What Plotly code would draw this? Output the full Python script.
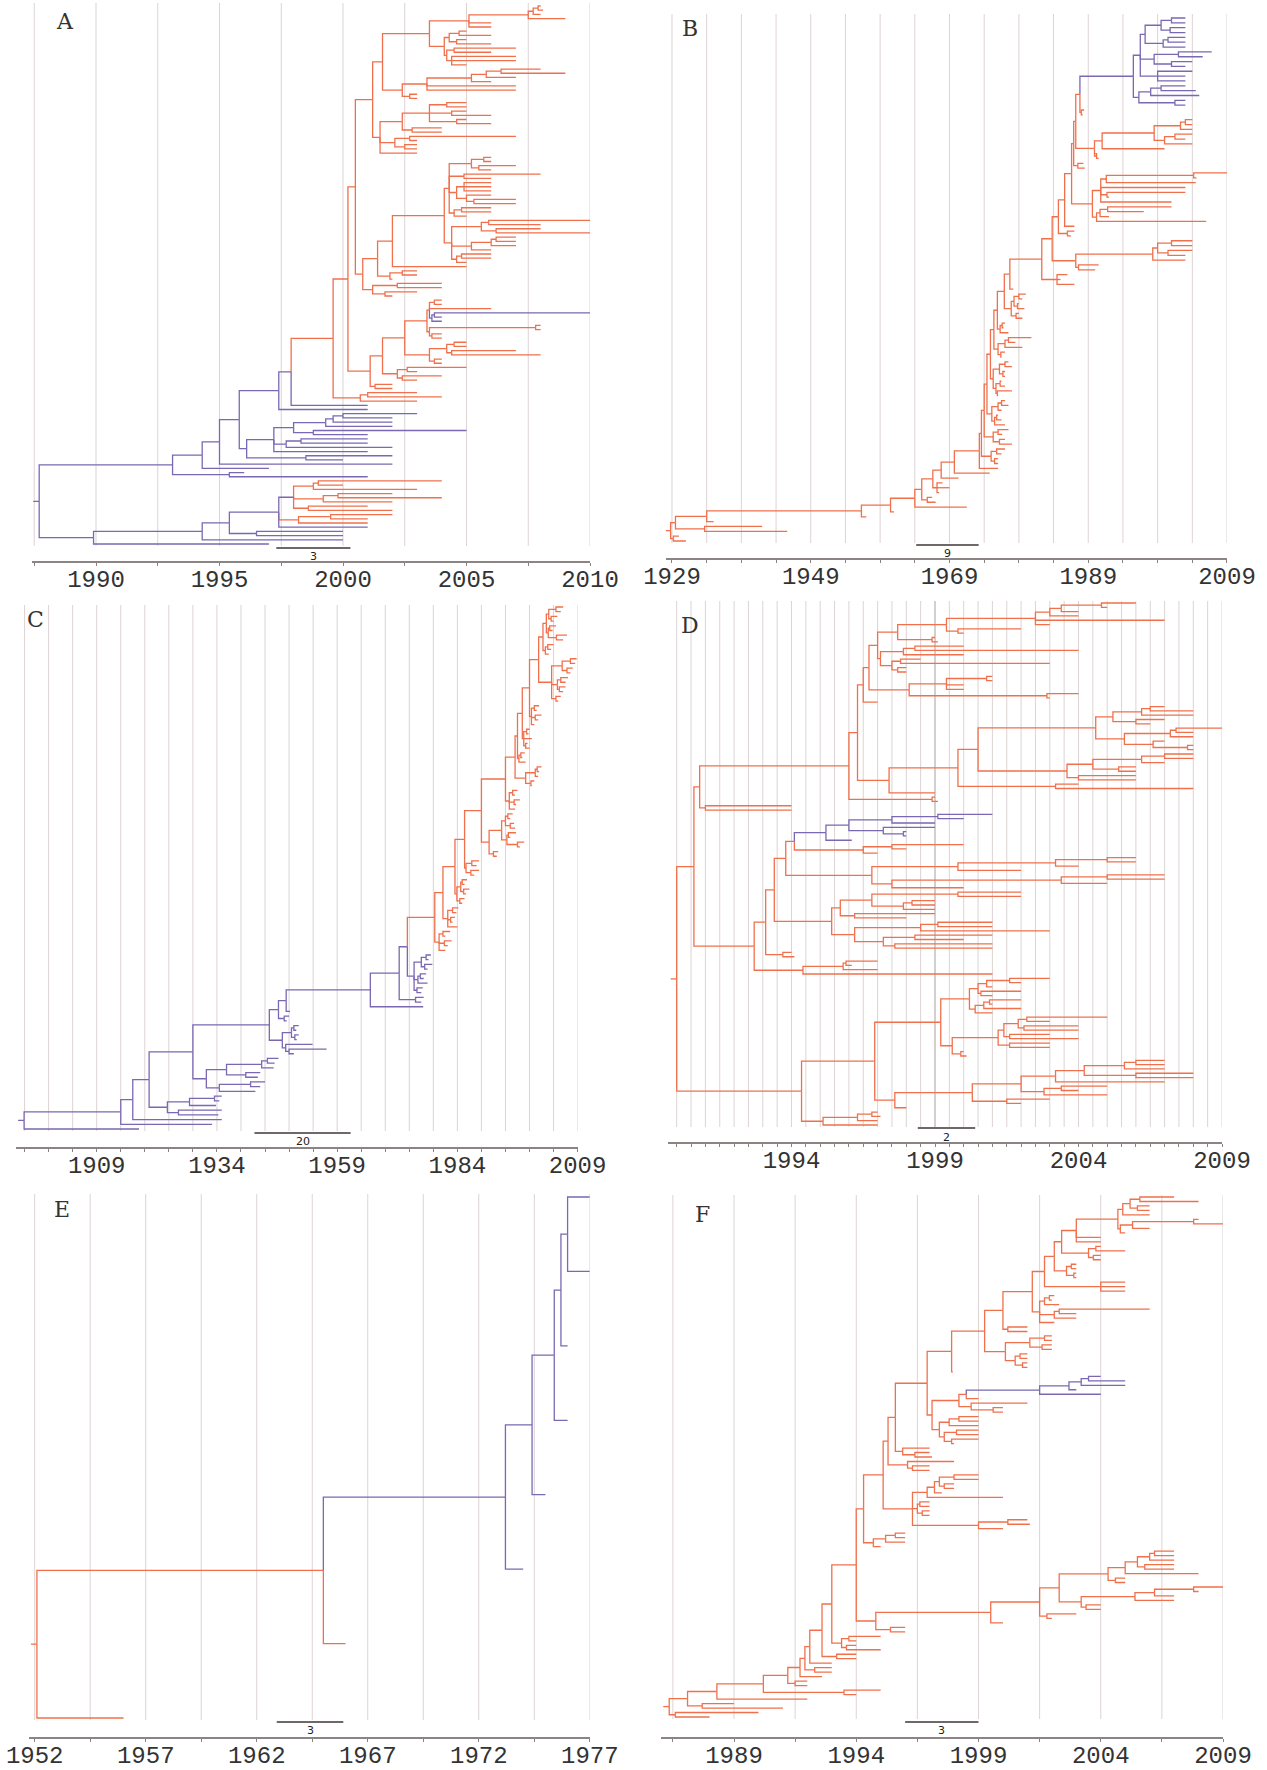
import re
import numpy as np
import plotly.graph_objects as go

W, H = 1267, 1770
ORANGE = "#F0704C"
PURPLE = "#7A68B3"
GRID = "#DDD3D3"
GRID_DARK = "#A99F9F"
AXIS = "#8C8383"
TEXT = "#333333"

# ---------------------------------------------------------------------------
# Dated trees, Newick style: every node is followed by its date (year);
# a trailing "o" / "p" switches the colour of that node's subtree
# (o = orange, p = purple).  Children are listed top to bottom.
# ---------------------------------------------------------------------------

# ---- A ----
A_TOP1 = ("(((((2008,2008.1)2007.9,2008)2007.7,2009)2007.5,2006,2006)2005.1,"
          "(((2005,2006)2004.7,(2005,2006)2004.6)2004.3,((2007,2006)2004.5,(2007,2007,2005)2004.4)2004.2)2004.1)2003.5")
A_TOP2 = "(((((2008,2009)2006.4,2007)2005.8,2006)2005.2,2007,2007)2003.4,(2003,2003)2002.7)2002.4"
A_TOP3 = ("((((2005,2005)2004.2,(2005,2006)2004.4,(2005,2006)2004.6)2003.5,(2004,2004)2002.8)2002.4,"
          "((2007,2003)2002.7,(2003,2003)2002.5)2002.1,2003)2001.5")
A_UP = ("(((2006,2006)2005.7,(2007,2006)2005.5)2005.2,(2008,2006)2004.9,"
        "((2006,2006,2006)2004.9,(2006,(2007,2007)2005.3)2005)2004.6,((2006,2006)2004.8,2005)2004.5)2004.3")
A_LOW = ("(((2010,2008)2005.9,(2008,2010)2006.2)2005.6,(((2007,2007)2006.2,2007)2006,2006)2005.2,"
         "((2006,2006)2004.8,2005)2004.6)2004.4")
A_MID = (f"(((({A_UP},{A_LOW})2004.1,2005)2002,((2003,2003)2002.4,2002)2001.9)2001.4,"
         "((2004,2004)2002.2,(2003,2002)2001.7)2001.2)2000.8")
A_TIPS = ("((((((2004,2004)2003.7,2006,((2010,2004)2003.7,2004)2003.6p)2003.5,"
          "((2008,2008)2007.8,(2004,2004)2003.6)2003.5)2003.4,"
          "(((2005,2005)2004.5,(2007,2008)2004.4)2004.2,(2004,2004)2003.7)2003.5)2002.5,"
          "((2005,2003)2002.6,(2004,2003)2002.4)2002.2)2001.6,(2002,2002)2001.3)2001.1")
A_SMALL = "((2003,2004)2001,2003)2000.7"
A_UPPER = (f"(((((({A_TOP1},{A_TOP2})2001.6,{A_TOP3})2001.2,{A_MID})2000.5,{A_TIPS})2000.2,"
           f"{A_SMALL})1999.6o,2001)1997.9")
A_PURPLE = ("((((((2003,2002)2000,2002)1999.6,2002)1999.3,(2005,2001)1998.8)1998,"
            "((2001,2001)1998.3,2002)1997.7,2001)1997.2,(2002,2000)1998.5)1996.1")
A_BRANCH1 = f"((((({A_UPPER},2001)1997.4,{A_PURPLE})1995.8,2002)1995,1997)1994.3,(1996,2001)1995.4)1993.1"
A_ORANGE_LOW = ("((((2004,2000)1999,2003)1998.8o,((2002,2004)1999.8,2002)1999.2o,(2001,2002)1998.6o)1998,"
                "((2002,2001)1999.5,2001)1998.2o,2001)1997.4")
A_BRANCH2 = f"((({A_ORANGE_LOW},(2000,2000)1996.5)1995.4,2000)1994.3,1997)1989.9"
TREE_A = f"({A_BRANCH1},{A_BRANCH2})1987.7p"

# ---- B ----
B_P = ("(((((2003,2003)2001,(2003,2003)2000.8)1999.5,((2003,2003)2000.5,2003)1999.8)1997.2,"
       "((2006.8,2005.5)2002,(2004,2003)2001)1998.5,(2004,2003,2003)1999)1996.5,"
       "(((2003,2004.5)1999.5,2005)1998,(2003,2003)2001.5)1996.3)1995.5p")
B_Q = "(((((2004,2004)2003,2004)2002.3,((2004,2003)2001.5,2004)2000)1998.5,2000)1991,(1990,1990.5)1990.2)1989.9"
B_R = ("((((2009,2004.6)2004.2,2004.5)1991.6,2003,(2003,1992)1991.7,2001)1990.8,"
       "(((2001,1997)1991.8,1992)1990.7,2006)1990.2)1989.6")
B_S = "((((2004,2004)2001,(2004,2003)2000.5)1999,2003)1998.3,(1990.5,1990)1987.6)1987.2"
B_L7 = "(((1980,1979.5)1979,(1979,1979.8)1978.8)1978.3,(1979,1979.5)1978.6)1977.9"
B_L6 = "((1977,1976.8)1976.6,1977.5)1976.3"
B_L5 = "(((1980.8,1978.5)1977.5,1979.5)1977,(1977,1976.5)1976.4)1976"
B_L4 = "(((1977.5,1978)1977,(1977,1977)1976.7)1976.2,((1976.5,1977)1976.3,(1978,1976)1975.9)1975.7)1975.3"
B_L3 = "(((1977,1977.5)1976.5,1976.5)1976,((1976,1976.5)1975.8,1977)1975.5)1975.1"
B_L2 = "((1977.5,1976.6)1976,(1977,1978)1976.2)1975.3"
B_L1 = "((1977,1976.5)1975.8,(1976,1976)1975.5)1975"
B_N1 = f"({B_P},(1988.4,1988.2)1988)1987.8"
B_N2 = f"({B_N1},{B_Q})1987.2"
B_N3 = f"({B_N2},(1988.3,1988.5)1987.5)1986.9"
B_N4 = f"({B_N3},{B_R})1986.6"
B_N5 = f"({B_N4},1987)1985.6"
B_N6 = f"({B_N5},(1987,1986.5)1986)1984.7"
B_N7 = f"({B_N6},{B_S})1983.8"
B_N8 = f"({B_N7},(1986,1985,1987)1984.5)1982.3"
B_N9 = f"({B_N8},1978.2)1977.7"
B_N10 = f"({B_N9},{B_L7})1976.9"
B_N11 = f"({B_N10},{B_L6})1975.9"
B_N12 = f"({B_N11},{B_L5})1975.4"
B_N13 = f"({B_N12},{B_L4})1974.9"
B_N14 = f"({B_N13},{B_L3})1974.4"
B_N15 = f"({B_N14},{B_L2})1974"
B_N16 = f"({B_N15},{B_L1})1973.6"
B_N17 = f"({B_N16},1976)1973.3"
B_N18 = f"({B_N17},1974.8)1969.7"
B_N19 = f"({B_N18},1970.3)1967.8"
B_N20 = f"({B_N19},(1968,1969,1967.5)1967.2)1966.6"
B_N21 = f"({B_N20},(1966.5,1967)1965.8)1965"
B_N22 = f"({B_N21},1971.5)1964"
B_N23 = f"({B_N22},1961)1960.5"
B_N24 = f"({B_N23},1957)1956.3"
B_N25 = f"({B_N24},1935)1934"
B_N26 = f"({B_N25},(1942,1945.6)1933.7)1929.5"
TREE_B = f"({B_N26},(1930,1931)1929.2)1928.8o"

# ---- C ----
C1 = ("((((2006,2005.5)2004.5,(2004.8,2004)2003.5)2003,((2004.5,2003.8)2003.2,(2006.8,2006)2004.6)2002.9)2002.5,"
      "((2004,2003.5)2002.8,2003)2002.3)2001.8")
C2 = ("(((2008.8,2008.5)2007.5,(2008,2007.5)2006.8)2005.8,((2007,2006.5)2005.5,(2006.5,2006)2005.2)2004.8,"
      "(2005.5,2005)2004.5)2003.6")
C3 = "((2001,2000.5)2000,(2001.5,2000.8)2000.2,2000)1999.4"
C4 = "((1999,1998.8)1998.4,1999.5,(1998.6,1999)1998.2)1997.8"
C5 = "((1998,1997.5)1997.2,1998.2)1996.8"
C6 = "(((2001.5,2001)2000.6,2000.8)2000.2,(2000,1999.5)1999.3)1998.2"
C7 = "((1996.5,1996)1995.5,(1997,1996.2)1995.8,1996)1994.8"
C8 = ("((((1995.5,1995)1994.5,(1995.8,1996)1995)1994,((1996.2,1995)1994.6,(1997.9,1997)1996.5)1994.3)1993.2,"
      "(1992.5,1992.2)1991.5)1990.6")
C9 = "((1988.5,1988)1987,(1988.5,1987.5)1986.8)1985.8"
C10 = "(((1986,1985.5)1985,(1986.5,1985.8)1985.3)1984.7,(1985.5,1985)1984.5)1983.9"
C11 = "((1984.2,1983.8)1983,(1983.5,1983)1982.6,1984)1982"
C12 = "((1982.5,1981.5)1981,(1982.8,1982)1981.3,1981.5)1980.2"
C_O1 = f"({C1},{C2})2000.9"
C_O2 = f"({C_O1},{C3})1999"
C_O3 = f"({C_O2},{C4})1997.5"
C_O4 = f"({C_O3},{C5})1996.5"
C_O5 = f"({C_O4},{C6})1996"
C_O6 = f"({C_O5},{C7})1994"
C_O7 = f"({C_O6},{C8})1989"
C_O8 = f"({C_O7},{C9})1985.5"
C_O9 = f"({C_O8},{C10})1983.5"
C_O10 = f"({C_O9},{C11})1981"
C_O11 = f"({C_O10},{C12})1979.3o"
C_P1 = ("(((1978.5,1978)1977.5,(1978.8,1977.8)1977.2)1976.5,((1977.5,1977)1976.3,1977.8)1975.8,"
        "(1976.8,1976.5)1975.6)1975")
C_N1 = f"({C_O11},{C_P1})1973.6"
C_N2 = f"({C_N1},(1977,1976.5)1975.3)1971.9"
C_N3 = f"({C_N2},1976.9)1965.9"
C_N4 = f"({C_N3},1949.2)1948.4"
C_N5 = f"({C_N4},(1949,1948.5)1948)1946.8"
C_CP1 = "(((1951,1950.5)1950,(1951,1950.6)1950.2)1949.5,(1953.9,(1956.8,1950)1949)1948.3)1947.6"
C_N6 = f"({C_N5},{C_CP1})1944.9"
C_CP2 = "((((1946.8,1946)1944.5,1945.8)1943.3,(1943,1942.5)1940)1936,((1944,1943)1941,1942)1934.5)1931.8"
C_N7 = f"({C_N6},{C_CP2})1929"
C_CP3 = "(((1935,1934.5)1933.5,1933.8)1928.3,(1935,1934.3)1926)1923.7"
C_N8 = f"({C_N7},{C_CP3})1919.9"
C_N9 = f"({C_N8},1935)1916.5"
C_N10 = f"({C_N9},1933)1914"
TREE_C = f"({C_N10},1917.8)1893.9p"

# ---- D ----
D1 = "(((((2006,2005)2004.8,2004)2003.4,2004)2003,2007,2003)2002.5,(2002,2000)1999.8)1999.4"
D2 = "(1999,1999.1)1998.9"
D3 = "(((2000,2004)1998.3,2000)1997.9,((1998.5,2003)1997.8,(1998,1998)1997.7)1997.5)1997.1"
D4 = "(((2001,2001)2000.8,2000,2000)1999.4,(2004,2003)2002.9)1998.1"
D5A = ("((((2007,2008)2006.5,2008)2006.2,(2007,2006.5)2006)2005.2,"
       "(((2009,2008)2007.4,2008)2007.2,(2007,(2008,2008)2007.8)2006.6)2005.6)2004.6")
D5B = "((((2008,2008)2007,2007)2006.2,(2006,2006)2005.4)2004.5,(2006,2006)2004)2003.6"
D5 = f"(({D5A},{D5B})2000.5,(2004,2008)2003.2)1999.8"
D6 = "((((2001,2000)1999.1,1999)1997.5,(1999,(1998,1998)1997.9)1997.2)1996,1996.1)1995.2p"
D7 = "((2000,1998)1997.5,1997)1996.5"
D8 = "((((2006,2006)2005,2004)2003.2,2002)1999.8,(((2007,2007)2005,2005)2003.4,2000)1997.5)1996.8"
D9A = "(((2002,2002)1999.8,((1999,1999)1998.2,1999)1997.9)1996.8,(1999,1998)1996.2)1995.7"
D9B = "(((2001,2001)1999.1,2003)1998.5,((2001,2000)1998.3,(2001,2001)1997.6)1997.2)1996.2"
D10 = "(((1997,1996.1)1995.9,1997)1995.8,2001)1994.4"
D11 = ("((((2003,2002)2001.6,2001)2000.8,(2002,2001)2000.6)2000.5,"
       "(((2002,2001)2000.9,2002)2000.7,2001)2000.4)2000.2")
D12 = "((((2005,2003)2002.2,(2004,2004)2002.1)2001.9,(2003,2004)2001.6)2001.4,(2003,2003)2001.6)2001.2"
D13 = ("((((((2007,2007)2006,2007)2005.6,(2008,2008)2006)2004.2,2007)2003.2,"
       "((2005,2004)2003.4,2005)2002.8)2002,(2003,2002)2001.5)2000.3")
D14 = "(((1997,1997.1)1996.8,1997)1996.3,1997)1995.1"
D_N1 = f"(({D1},{D2})1997.7,{D3})1997"
D_N2 = f"({D_N1},{D4})1996.7"
D_N3 = f"({D_N2},1997)1996.5"
D_N4 = f"({D5},1999)1997.4"
D_N5 = f"({D_N3},{D_N4})1996.3"
D_N6 = f"({D_N5},(1999,1999.1)1998.9)1996"
D_N7 = f"({D_N6},(1994,1994)1991)1990.8"
D_N8 = f"({D6},{D7})1994.1"
D_N9 = f"({D_N8},{D8})1993.8"
D_N10 = f"({D_N9},({D9A},{D9B})1995.4)1993.4"
D_N11 = f"({D_N10},(1994,1994.1)1993.7)1993.1"
D_N12 = f"({D_N11},{D10})1992.7"
D_N13 = f"({D_N7},{D_N12})1990.6"
D_E1 = f"({D11},({D12},(2000,2000.1)1999.9)1999.6)1999.2"
D_E2 = f"({D13},1998)1997.6"
D_E3 = f"({D_E1},{D_E2})1996.9"
D_E4 = f"({D_E3},{D14})1994.35"
TREE_D = f"({D_N13},{D_E4})1990o"

# ---- E ----
TREE_E = "(((((((1977,1977)1976,1976)1975.7,1976)1975.4,1975)1974.4,1974)1973.2p,1966)1965,1956)1952.1o"

# ---- F ----
F1 = ("((((2007,2008)2005.6,(2006,2006)2005.5)2005.2,2006)2004.9,"
      "(((2008,2009)2007.8,2006)2005.3,2005)2004.8)2004.7")
F2 = "((2004,2005)2003.8,(2004,2004)2003.7)2003.5"
F3 = "((2003,2003)2002.8,(2003,2003)2002.9)2002.6"
F4 = "(2005,2005,2005)2004"
F5 = "(((2002.1,2002)2001.9,2002.3)2001.7,((2006,2003)2002.3,2003)2002.1,2002.1)2001.5"
F6 = "(2001,2001)2000.2"
F7 = "(((2002,2002)2001.7,(2002,2002)2001.6)2001.1,((2001,2001)2000.7,(2001,2001)2000.8)2000.5)2000.1"
F_P = "((((2004,2005)2003.5,2005)2003.2,2003)2002.7,2004)2001.5p"
F8A = f"(({F_P},1999)1998.5,(2001,(2000,2000)1999.6)1998.7)1998.2"
F8B = "(((1999,1999)1998.2,1999)1997.8,((1999,1999)1998.1,(1999,1998)1997.9)1997.6)1997.4"
F9 = "(1997,(1997,1997.1)1996.4)1995.9"
F10 = "(1998,(1997,1997)1996.3)1996.1"
F11 = ("(((((1999,1999)1998,(1998,1998)1997.6)1997.4,1997.5)1997.2,2000)1996.9,"
       "((1997,1997)1996.6,(1997,1997)1996.7)1996.5,((2001,2001.1)2000.2,2000)1999)1996.3")
F12 = "(((1996,1996)1995.6,1996)1995.2,1995)1994.7"
F_B = ("(((((((2007,2007)2006.2,2007)2006,(2007,2007)2005.8)2005.5,2008)2005,(2005,2005)2004.6)2004.3,"
       "((((2009,2008)2007.8,2007)2006.2,2007)2005.4,(2004,2004)2003.4)2003.2)2002.3,(2003,2002)2001.8)2001.5")
F_N1 = f"({F1},2004,2004)2003"
F_N2 = f"({F_N1},{F2})2002.4"
F_N3 = f"({F_N2},{F3})2002.1"
F_N4 = f"({F_N3},{F4})2001.7"
F_N5 = f"({F_N4},{F5})2001.2"
F_N6 = f"({F_N5},{F6})2000"
F_N7 = f"({F_N6},{F7})1999.25"
F_N8 = f"({F_N7},1997.95)1997.9"
F_N9 = f"({F_N8},({F8A},{F8B})1997.1)1996.9"
F_N10 = f"({F_N9},{F9})1995.6"
F_N11 = f"({F_N10},{F10})1995.3"
F_N12 = f"({F_N11},{F11})1995.1"
F_N13 = f"({F_N12},{F12})1994.3"
F_NB = f"(({F_B},2000)1999.5,(1996,1996)1995.4)1994.8"
F_N14 = f"({F_N13},{F_NB})1994"
F_N15 = f"({F_N14},((1995,1994)1993.7,(1994,1995)1993.6)1993.4)1993"
F_N16 = f"({F_N15},(1994,1994)1993.2)1992.6"
F_N17 = f"({F_N16},1993)1992.1"
F_N18 = f"({F_N17},(1993,1993)1992.3)1991.9"
F_N19 = f"({F_N18},1992.6)1991.7"
F_N20 = f"({F_N19},(1992,1992)1991.5)1991.2"
F_N21 = f"({F_N20},(1995,1994)1993.5)1990.2"
F_N22 = f"({F_N21},1992)1988.3"
F_N23 = f"({F_N22},(1989,1991)1987.7)1987.1"
TREE_F = f"({F_N23},(1990,1988)1986.6)1986.35o"

# ---------------------------------------------------------------------------
# Panel content
# ---------------------------------------------------------------------------
LETTERS = ["A", "B", "C", "D", "E", "F"]
TREES = [TREE_A, TREE_B, TREE_C, TREE_D, TREE_E, TREE_F]
TICK_YEARS = [
    [1990, 1995, 2000, 2005, 2010],
    [1929, 1949, 1969, 1989, 2009],
    [1909, 1934, 1959, 1984, 2009],
    [1994, 1999, 2004, 2009],
    [1952, 1957, 1962, 1967, 1972, 1977],
    [1989, 1994, 1999, 2004, 2009],
]
AXIS_SPAN = [(1987.4, 2010), (1928.1, 2009), (1892.3, 2009), (1989.7, 2009), (1951.75, 1977), (1986.0, 2009)]
GRID_SPEC = [(1987.5, 2010, 2.5), (1929, 2009, 5), (1894, 2009, 5), (1990, 2009, 0.5), (1952, 1977, 2.5),
             (1986.5, 2009, 2.5)]
GRID_EMPHASIS = [[], [], [], [1999], [], []]
SCALE_LEN = [3, 9, 20, 2, 3, 3]
SCALE_START = [1997.3, 1964.2, 1941.8, 1998.4, 1962.9, 1996.0]

# ---------------------------------------------------------------------------
# Page geometry (pixels)
# ---------------------------------------------------------------------------
X_ANCHORS = [((1990, 96), (2010, 590)), ((1929, 672), (2009, 1227)), ((1909, 96.7), (2009, 577.6)),
             ((1994, 791.5), (2009, 1222)), ((1952, 34.7), (1977, 589.8)), ((1989, 734), (2009, 1223))]
ROWS = [
    dict(grid_top=3, leaf_top=6, leaf_bottom=544, grid_bottom=546, bar=548, bar_label=556, axis=561),
    dict(grid_top=14, leaf_top=18, leaf_bottom=541, grid_bottom=543, bar=545, bar_label=553, axis=558),
    dict(grid_top=605, leaf_top=607, leaf_bottom=1129, grid_bottom=1131, bar=1133, bar_label=1141, axis=1147),
    dict(grid_top=601, leaf_top=603, leaf_bottom=1125, grid_bottom=1127, bar=1128, bar_label=1137, axis=1142),
    dict(grid_top=1194, leaf_top=1197, leaf_bottom=1718, grid_bottom=1720, bar=1722, bar_label=1730, axis=1737),
    dict(grid_top=1195, leaf_top=1197, leaf_bottom=1717, grid_bottom=1719, bar=1722, bar_label=1730, axis=1737),
]
LETTER_POS = [(65, 22), (690, 28), (35, 619), (690, 625), (62, 1209), (702, 1214)]
STUB_PX = 6
LABEL_PULL = -8   # tick labels sit close under the axis line


def parse_tree(text):
    s = re.sub(r"\s+", "", text)
    num = re.compile(r"\d+(?:\.\d+)?")
    pos = 0

    def node():
        nonlocal pos
        kids = []
        if s[pos] == "(":
            pos += 1
            kids.append(node())
            while s[pos] == ",":
                pos += 1
                kids.append(node())
            pos += 1
        m = num.match(s, pos)
        pos = m.end()
        tag = None
        if pos < len(s) and s[pos] in "op":
            tag = s[pos]
            pos += 1
        return {"t": float(m.group()), "tag": tag, "kids": kids}

    return node()


def place(root):
    count = 0

    def walk(n, colour):
        nonlocal count
        n["col"] = n["tag"] or colour
        if not n["kids"]:
            n["y"] = count
            count += 1
        else:
            for k in n["kids"]:
                walk(k, n["col"])
            n["y"] = (n["kids"][0]["y"] + n["kids"][-1]["y"]) / 2

    walk(root, root["tag"] or "o")
    return count


def branch_paths(root, stub):
    paths = {"o": ([], []), "p": ([], [])}
    xs, ys = paths[root["col"]]
    xs += [root["t"] - stub, root["t"], None]
    ys += [root["y"], root["y"], None]
    stack = [root]
    while stack:
        n = stack.pop()
        for k in n["kids"]:
            xs, ys = paths[k["col"]]
            xs += [n["t"], n["t"], k["t"], None]
            ys += [n["y"], k["y"], k["y"], None]
            stack.append(k)
    return paths


fig = go.Figure()
shapes, annotations = [], []

for i in range(6):
    ax = "" if i == 0 else str(i + 1)
    (ya, pa), (yb, pb) = X_ANCHORS[i]
    slope = (pb - pa) / (yb - ya)

    def to_px(year):
        return pa + (year - ya) * slope

    g = ROWS[i]
    x0, x1 = AXIS_SPAN[i]

    root = parse_tree(TREES[i])
    n_leaves = place(root)
    step = (g["leaf_bottom"] - g["leaf_top"]) / (n_leaves - 1)
    y_bottom = (g["axis"] - g["leaf_top"]) / step
    y_top = (g["grid_top"] - g["leaf_top"]) / step

    paths = branch_paths(root, STUB_PX / slope)
    for key, colour in (("o", ORANGE), ("p", PURPLE)):
        xs, ys = paths[key]
        if xs:
            fig.add_trace(go.Scatter(x=xs, y=ys, mode="lines", line=dict(color=colour, width=1.3),
                                     xaxis="x" + ax, yaxis="y" + ax, hoverinfo="skip",
                                     showlegend=False))

    g0, g1, gs = GRID_SPEC[i]
    grid_years = np.arange(g0, g1 + gs / 2, gs)
    for gy in grid_years:
        shapes.append(dict(type="line", xref="x" + ax, yref="paper", x0=gy, x1=gy,
                           y0=1 - g["grid_bottom"] / H, y1=1 - g["grid_top"] / H, layer="below",
                           line=dict(color=GRID_DARK if gy in GRID_EMPHASIS[i] else GRID, width=1)))

    # scale bar
    sb0 = SCALE_START[i]
    sb1 = sb0 + SCALE_LEN[i]
    shapes.append(dict(type="line", xref="x" + ax, yref="paper", x0=sb0, x1=sb1,
                       y0=1 - g["bar"] / H, y1=1 - g["bar"] / H, line=dict(color="#6E6868", width=2)))
    annotations.append(dict(x=(sb0 + sb1) / 2, y=1 - g["bar_label"] / H, xref="x" + ax, yref="paper",
                            text=str(SCALE_LEN[i]), showarrow=False, xanchor="center", yanchor="middle",
                            font=dict(family="DejaVu Sans", size=11, color="#222222")))

    lx, ly = LETTER_POS[i]
    annotations.append(dict(x=lx / W, y=1 - ly / H, xref="paper", yref="paper", text=LETTERS[i],
                            showarrow=False, xanchor="center", yanchor="middle",
                            font=dict(family="DejaVu Serif", size=22, color=TEXT)))

    fig.update_layout(**{
        "xaxis" + ax: dict(
            domain=[to_px(x0) / W, to_px(x1) / W], range=[x0, x1], anchor="y" + ax,
            automargin=False, showgrid=False, zeroline=False, showline=True, linecolor=AXIS, linewidth=2,
            tickmode="array", tickvals=TICK_YEARS[i], ticktext=[str(t) for t in TICK_YEARS[i]],
            ticks="outside", ticklen=3, tickcolor=AXIS, tickwidth=1, ticklabelstandoff=LABEL_PULL,
            minor=dict(tickvals=list(grid_years), ticks="outside", ticklen=3, tickcolor=AXIS),
            tickfont=dict(family="Liberation Mono", size=24, color=TEXT),
        ),
        "yaxis" + ax: dict(
            domain=[1 - g["axis"] / H, 1 - g["grid_top"] / H], range=[y_bottom, y_top],
            automargin=False, visible=False, showgrid=False, zeroline=False,
        ),
    })

fig.update_layout(width=W, height=H, autosize=False, margin=dict(l=0, r=0, t=0, b=0, pad=0),
                  paper_bgcolor="white", plot_bgcolor="white", shapes=shapes,
                  annotations=annotations, showlegend=False)

fig.write_html("out.html")
